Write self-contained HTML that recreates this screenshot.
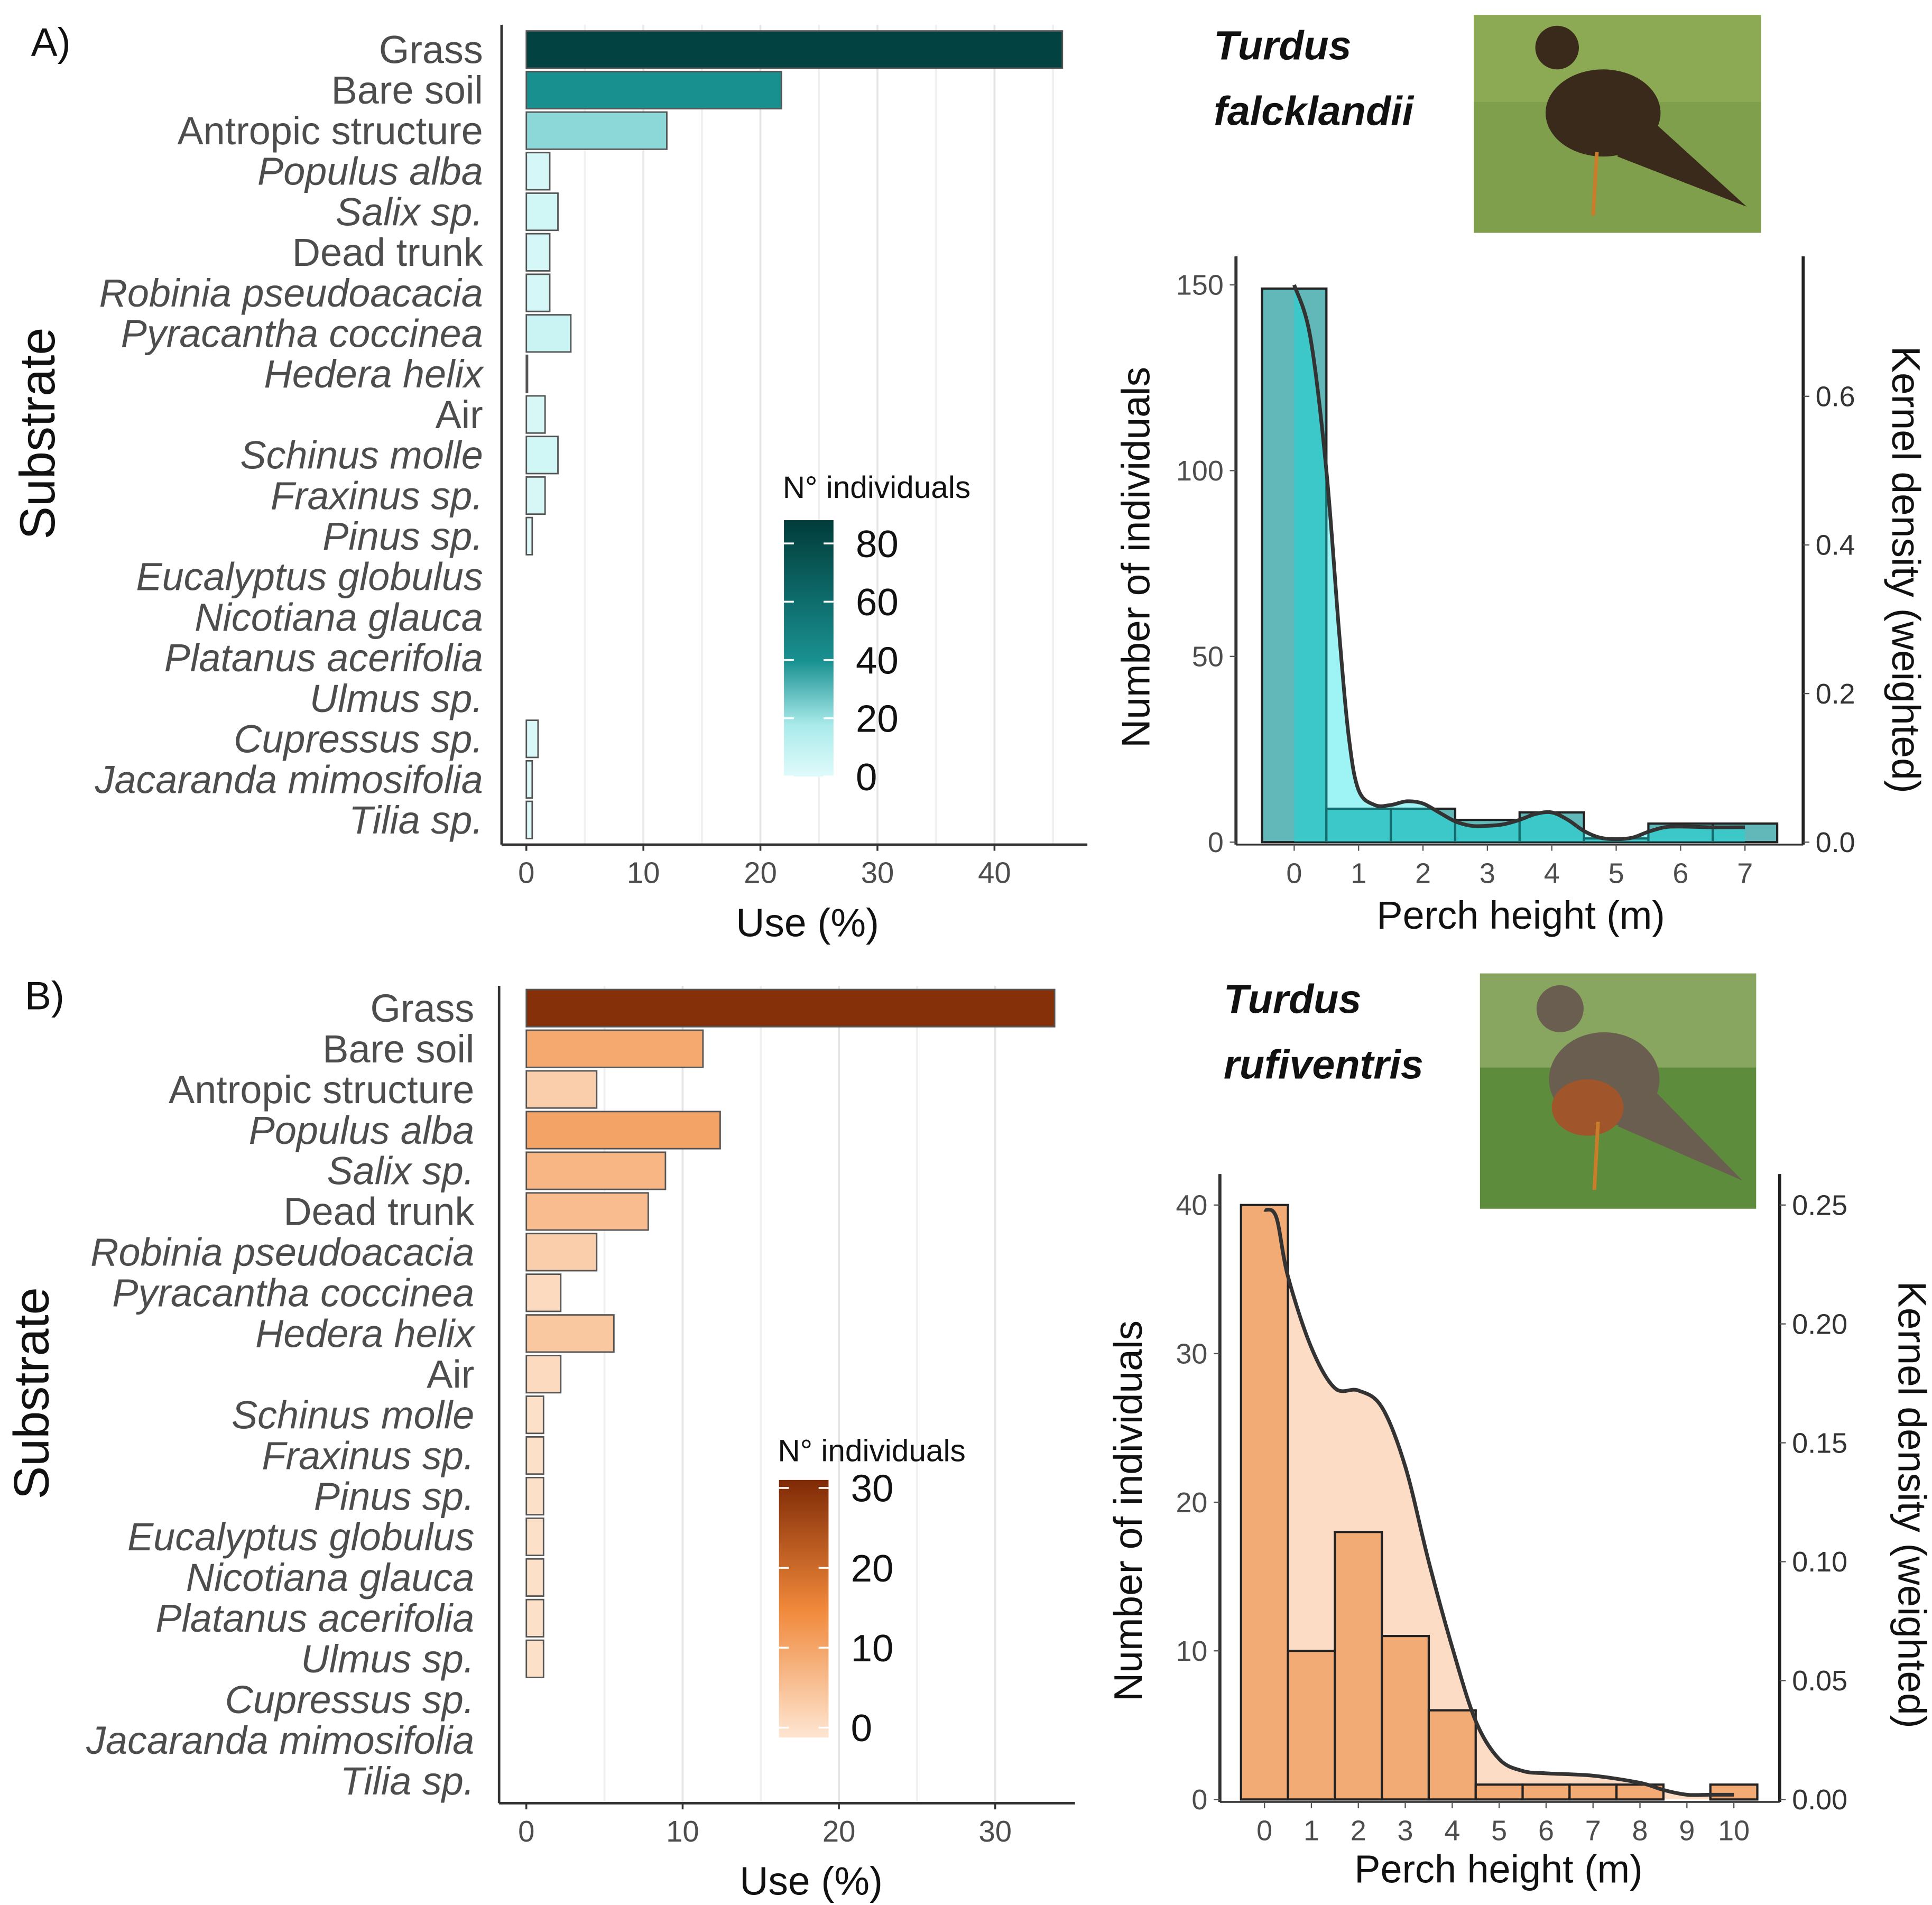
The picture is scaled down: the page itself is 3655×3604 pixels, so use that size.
<!DOCTYPE html>
<html><head><meta charset="utf-8"><style>html,body{margin:0;padding:0;background:#fff}svg{display:block}text{font-family:"Liberation Sans",sans-serif}</style></head>
<body>
<svg id="fig" xmlns="http://www.w3.org/2000/svg" width="3655" height="3604" viewBox="0 0 1560 1538.2">
<defs>
<linearGradient id="gA" x1="0" y1="1" x2="0" y2="0"><stop offset="0" stop-color="#e0fafa"/><stop offset="0.2" stop-color="#aaebeb"/><stop offset="0.45" stop-color="#199191"/><stop offset="1" stop-color="#003c3a"/></linearGradient>
<linearGradient id="gB" x1="0" y1="1" x2="0" y2="0"><stop offset="0" stop-color="#fee6d2"/><stop offset="0.5" stop-color="#f0883a"/><stop offset="1" stop-color="#7f2a06"/></linearGradient>
</defs>
<g id="root"></g>
</svg>
<script>
const substrates=["Grass","Bare soil","Antropic structure","Populus alba","Salix sp.","Dead trunk","Robinia pseudoacacia","Pyracantha coccinea","Hedera helix","Air","Schinus molle","Fraxinus sp.","Pinus sp.","Eucalyptus globulus","Nicotiana glauca","Platanus acerifolia","Ulmus sp.","Cupressus sp.","Jacaranda mimosifolia","Tilia sp."];
const italicFlags=[0,0,0,1,1,0,1,1,1,0,1,1,1,1,1,1,1,1,1,1];
const useA=[45.8,21.8,12,2,2.7,2,2,3.8,0.1,1.6,2.7,1.6,0.5,0,0,0,0,1,0.5,0.5];
const useB=[33.8,11.3,4.5,12.4,8.9,7.8,4.5,2.2,5.6,2.2,1.1,1.1,1.1,1.1,1.1,1.1,1.1,0,0,0];
const totalA=185, totalB=89;
const xTicksA=[0,10,20,30,40], xTicksB=[0,10,20,30];
const legTicksA=[0,20,40,60,80], legTicksB=[0,10,20,30];
const histHA=[0,1,2,3,4,5,6,7];
const histCA=[149,9,9,6,8,1,5,5];
const densXA=[0,0.25,0.5,0.7,0.85,1,1.25,1.5,1.75,2,2.25,2.5,2.75,3,3.25,3.5,3.75,4,4.25,4.5,4.75,5,5.25,5.5,5.75,6,6.5,7];
const densYA=[0.75,0.68,0.5,0.28,0.14,0.07,0.05,0.05,0.055,0.052,0.04,0.028,0.022,0.022,0.024,0.03,0.038,0.04,0.03,0.015,0.006,0.004,0.006,0.014,0.02,0.021,0.02,0.02];
const yTicksA=[0,50,100,150], y2TicksA=[0,0.2,0.4,0.6];
const histHB=[0,1,2,3,4,5,6,7,8,9,10];
const histCB=[40,10,18,11,6,1,1,1,1,0,1];
const densXB=[0,0.25,0.5,1,1.5,2,2.5,3,3.5,4,4.5,5,5.5,6,7,8,8.5,9,9.5,10];
const densYB=[0.248,0.245,0.22,0.19,0.173,0.172,0.165,0.14,0.1,0.064,0.033,0.017,0.012,0.011,0.01,0.007,0.004,0.002,0.002,0.002];
const yTicksB=[0,10,20,30,40], y2TicksB=[0,0.05,0.1,0.15,0.2,0.25];

const NS="http://www.w3.org/2000/svg";
const root=document.getElementById('root');
function mk(tag,attrs,parent,txt){const e=document.createElementNS(NS,tag);for(const k in attrs)e.setAttribute(k,attrs[k]);if(txt!==undefined)e.textContent=txt;(parent||root).appendChild(e);return e;}
function lerpCol(stops,t){t=Math.max(0,Math.min(1,t));for(let i=1;i<stops.length;i++){if(t<=stops[i][0]){const a=stops[i-1],b=stops[i];const u=(t-a[0])/(b[0]-a[0]);const c=a[1].map((v,j)=>Math.round(v+(b[1][j]-v)*u));return `rgb(${c})`;}}return `rgb(${stops[stops.length-1][1]})`;}
const stA=[[0,[224,250,250]],[0.2,[170,235,235]],[0.45,[25,145,145]],[1,[0,60,58]]];
const stB=[[0,[254,230,210]],[0.5,[240,136,58]],[1,[127,42,6]]];
function smooth(pts){let d=`M${pts[0][0]},${pts[0][1]}`;for(let i=0;i<pts.length-1;i++){const p0=pts[Math.max(0,i-1)],p1=pts[i],p2=pts[i+1],p3=pts[Math.min(pts.length-1,i+2)];const c1=[p1[0]+(p2[0]-p0[0])/6,p1[1]+(p2[1]-p0[1])/6],c2=[p2[0]-(p3[0]-p1[0])/6,p2[1]-(p3[1]-p1[1])/6];d+=` C${c1[0]},${c1[1]} ${c2[0]},${c2[1]} ${p2[0]},${p2[1]}`;}return d;}

function barPanel(o){
  const g=mk('g',{});
  const sx=v=>o.x0+v*o.ppu;
  const rowY=i=>o.yTop+i*o.step;
  for(let v=5;v<=o.gridMax;v+=5){const l=mk('line',{x1:sx(v),x2:sx(v),y1:o.axTop,y2:o.axBot,stroke:v%10==0?'#e6e6e6':'#f0f0f0','stroke-width':1.6},g);}
  substrates.forEach((s,i)=>{
    const v=o.vals[i];const cnt=v/100*o.total;
    if(v>0){const r=mk('rect',{x:sx(0),y:rowY(i)-15,width:Math.max(0.6,sx(v)-sx(0)),height:30,fill:lerpCol(o.stops,cnt/o.cmax),stroke:'#555','stroke-width':1.2},g);}
    const t=mk('text',{x:o.labX,y:rowY(i)+11,'text-anchor':'end','font-size':31.5,fill:'#4d4d4d','font-style':italicFlags[i]?'italic':'normal'},g,s);
    
  });
  const ax=mk('line',{x1:o.axX,x2:o.axX,y1:o.axTop,y2:o.axBot,stroke:'#333','stroke-width':2},g);
  const xa=mk('line',{x1:o.axX,x2:o.axRight,y1:o.axBot,y2:o.axBot,stroke:'#333','stroke-width':2},g);
  o.ticks.forEach(v=>{mk('line',{x1:sx(v),x2:sx(v),y1:o.axBot,y2:o.axBot+5,stroke:'#333','stroke-width':1.5},g);const t=mk('text',{x:sx(v),y:o.axBot+31,'text-anchor':'middle','font-size':24,fill:'#4d4d4d'},g,v);});
  const xt=mk('text',{x:o.xTitleX,y:o.axBot+74,'text-anchor':'middle','font-size':32,fill:'#111'},g,'Use (%)');
  const yt=mk('text',{x:0,y:0,transform:`translate(${o.subX},${o.subY}) rotate(-90)`,'text-anchor':'middle','font-size':40,fill:'#111'},g,'Substrate');
  const pl=mk('text',{x:o.plX,y:o.plY,'font-size':32,fill:'#111'},g,o.panel);
  const lg=mk('g',{},g);
  mk('text',{x:o.lx-1,y:o.ltY,'font-size':25,fill:'#111'},lg,'N° individuals');
  mk('rect',{x:o.lx,y:o.lTop,width:40,height:o.lBot-o.lTop,fill:o.grad},lg);
  o.lticks.forEach(v=>{const y=o.l0+(o.lTop-o.l0)*(v/o.lmax);mk('line',{x1:o.lx,x2:o.lx+8,y1:y,y2:y,stroke:'#fff','stroke-width':1.5},lg);mk('line',{x1:o.lx+32,x2:o.lx+40,y1:y,y2:y,stroke:'#fff','stroke-width':1.5},lg);const t=mk('text',{x:o.lx+58,y:y+11,'font-size':31,fill:'#111'},lg,v);});
}
barPanel({name:'panel-a-bars',panel:'A)',vals:useA,total:totalA,cmax:88,stops:stA,x0:425,ppu:9.45,yTop:40,step:32.74,labX:390,axX:405,axTop:20,axBot:682,axRight:878,gridMax:45,ticks:xTicksA,xTitleX:652,subX:44,subY:350,plX:25,plY:45,lx:633,lTop:420,lBot:627,l0:627,lmax:88,lticks:legTicksA,ltY:402,grad:'url(#gA)'});
barPanel({name:'panel-b-bars',panel:'B)',vals:useB,total:totalB,cmax:31,stops:stB,x0:425,ppu:12.62,yTop:814,step:32.84,labX:383,axX:403,axTop:796,axBot:1456,axRight:868,gridMax:30,ticks:xTicksB,xTitleX:655,subX:39,subY:1125,plX:20,plY:815,lx:629,lTop:1195,lBot:1403,l0:1395,lmax:31,lticks:legTicksB,ltY:1180,grad:'url(#gB)'});

function histPanel(o){
  const g=mk('g',{});
  const sx=v=>o.x0+v*o.ppm, sy=v=>o.y0-v*o.ppc, sy2=v=>o.y0-v*o.ppd;
  const pts=o.dx.map((x,i)=>[sx(x),sy2(o.dy[i])]);
  const dLine=smooth(pts);
  const dFill=dLine+` L${sx(o.dx[o.dx.length-1])},${sy2(0)} L${sx(o.dx[0])},${sy2(0)} Z`;
  const drawBars=()=>o.hx.forEach((h,i)=>{const r=mk('rect',{x:sx(h-0.5),y:sy(o.hc[i]),width:o.ppm,height:sy(0)-sy(o.hc[i]),fill:o.barFill,stroke:'#222','stroke-width':1.8},g);});
  if(o.fillOnTop){drawBars();const f=mk('path',{d:dFill,fill:o.densFill},g);}
  else{const f=mk('path',{d:dFill,fill:o.densFill},g);drawBars();}
  const ln=mk('path',{d:dLine,fill:'none',stroke:'#333','stroke-width':3,'stroke-linejoin':'round'},g);
  mk('line',{x1:o.axL,x2:o.axL,y1:o.axTop,y2:o.axBot,stroke:'#333','stroke-width':2.5},g);
  mk('line',{x1:o.axR,x2:o.axR,y1:o.axTop,y2:o.axBot,stroke:'#222','stroke-width':2.5},g);
  mk('line',{x1:o.axL,x2:o.axR,y1:o.axBot,y2:o.axBot,stroke:'#333','stroke-width':1.5},g);
  o.yt.forEach(v=>{mk('line',{x1:o.axL-5,x2:o.axL,y1:sy(v),y2:sy(v),stroke:'#555'},g);const t=mk('text',{x:o.axL-10,y:sy(v)+8,'text-anchor':'end','font-size':23,fill:'#4d4d4d'},g,v);});
  o.y2t.forEach(v=>{mk('line',{x1:o.axR,x2:o.axR+5,y1:sy2(v),y2:sy2(v),stroke:'#555'},g);const t=mk('text',{x:o.axR+10,y:sy2(v)+8,'font-size':23,fill:'#333'},g,o.fmt(v));});
  o.hx.forEach(v=>{mk('line',{x1:sx(v),x2:sx(v),y1:o.axBot,y2:o.axBot+5,stroke:'#555'},g);const t=mk('text',{x:sx(v),y:o.axBot+31,'text-anchor':'middle','font-size':23,fill:'#4d4d4d'},g,v);});
  const xt=mk('text',{x:o.xtX,y:o.xtY,'text-anchor':'middle','font-size':31.5,fill:'#111'},g,'Perch height (m)');
  const yt=mk('text',{x:0,y:0,transform:`translate(${o.ylX},${o.ylY}) rotate(-90)`,'text-anchor':'middle','font-size':32,fill:'#111'},g,'Number of individuals');
  const y2=mk('text',{x:0,y:0,transform:`translate(${o.y2X},${o.y2Y}) rotate(90)`,'text-anchor':'middle','font-size':32,fill:'#111'},g,'Kernel density (weighted)');
  const t1=mk('text',{x:o.tX,y:o.tY,'font-size':33,'font-weight':'bold','font-style':'italic',fill:'#111'},g,o.t1);
  mk('text',{x:o.tX,y:o.tY+53,'font-size':33,'font-weight':'bold','font-style':'italic',fill:'#111'},g,o.t2);
  const p=mk('g',{},g);
  mk('rect',{x:o.px,y:o.py,width:o.pw,height:o.ph,fill:o.grass},p);
  mk('rect',{x:o.px,y:o.py,width:o.pw,height:o.ph*0.4,fill:o.grassTop,opacity:0.6},p);
  const bx=o.px+o.pw*0.45,by=o.py+o.ph*0.45;
  mk('ellipse',{cx:bx,cy:by,rx:o.pw*0.2,ry:o.ph*0.2,fill:o.body},p);
  mk('polygon',{points:`${bx+o.pw*0.1},${by-o.ph*0.05} ${o.px+o.pw*0.95},${o.py+o.ph*0.88} ${bx+o.pw*0.05},${by+o.ph*0.2}`,fill:o.body},p);
  mk('circle',{cx:bx-o.pw*0.16,cy:o.py+o.ph*0.15,r:o.ph*0.1,fill:o.body},p);
  if(o.belly)mk('ellipse',{cx:bx-o.pw*0.06,cy:by+o.ph*0.12,rx:o.pw*0.13,ry:o.ph*0.12,fill:o.belly},p);
  mk('line',{x1:bx-5,x2:bx-8,y1:by+o.ph*0.18,y2:o.py+o.ph*0.92,stroke:'#c97c2a','stroke-width':3},p);
}
histPanel({name:'panel-a-histogram',x0:1045,ppm:52,y0:680,ppc:3.0,ppd:600,hx:histHA,hc:histCA,dx:densXA,dy:densYA,fillOnTop:true,barFill:'#62b8b8',densFill:'rgba(0,225,225,0.38)',axL:998,axR:1456,axTop:207,axBot:682,yt:yTicksA,y2t:y2TicksA,fmt:v=>v.toFixed(1),xtX:1228,xtY:750,ylX:928,ylY:450,y2X:1528,y2Y:460,tX:980,tY:48,t1:'Turdus',t2:'falcklandii',px:1190,py:12,pw:232,ph:176,grass:'#7f9f4c',grassTop:'#94b05a',body:'#3a2a1c',belly:null});
histPanel({name:'panel-b-histogram',x0:1021,ppm:37.9,y0:1453,ppc:12.0,ppd:1920,hx:histHB,hc:histCB,dx:densXB,dy:densYB,fillOnTop:false,barFill:'#f2ab75',densFill:'#fddcc5',axL:985,axR:1437,axTop:948,axBot:1455,yt:yTicksB,y2t:y2TicksB,fmt:v=>v.toFixed(2),xtX:1210,xtY:1520,ylX:922,ylY:1220,y2X:1533,y2Y:1215,tX:988,tY:818,t1:'Turdus',t2:'rufiventris',px:1195,py:786,pw:223,ph:190,grass:'#5d8c3c',grassTop:'#a6b87a',body:'#6a5e50',belly:'#a0552a'});
</script>
</body></html>
